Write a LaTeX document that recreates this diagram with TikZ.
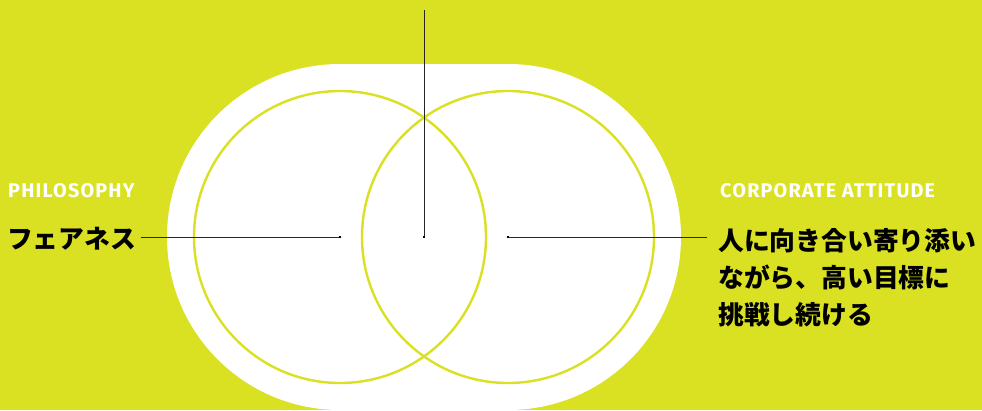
\documentclass[tikz,border=0pt]{standalone}
\usepackage{fontspec}
\usepackage{tikz}
\usetikzlibrary{positioning}
\newfontfamily\cjk{Noto Sans CJK JP}
\newfontfamily\headfont{Fira Sans}[LetterSpace=6]
\definecolor{lime}{RGB}{218,225,34}

\begin{document}
\begin{tikzpicture}[x=1pt,y=-1pt,
  ring/.style={draw=lime,line width=2.4pt},
  leader/.style={draw=black!85,line width=0.9pt},
  tip/.style={fill=black,inner sep=0pt,minimum size=2.4pt},
  caption/.style={font=\headfont\bfseries\fontsize{19.8}{22}\selectfont,text=white,inner sep=0pt,anchor=base west},
  phrase/.style={font=\cjk\bfseries\fontsize{25.8}{37}\selectfont,text=black,inner sep=0pt,anchor=base west,align=left}]
\useasboundingbox (0,0) rectangle (982,410);
\fill[lime] (0,0) rectangle (982,410);
% white stadium behind the two rings
\fill[white,rounded corners=173pt] (167,64) rectangle (681,410);
\coordinate (lc) at (340,237);
\coordinate (rc) at (508,237);
\coordinate (mid) at (424,237);
\coordinate (top) at (424,10);
\draw[ring] (lc) circle (146);
\draw[ring] (rc) circle (146);
% labels
\node[caption] (philcap) at (8,197) {PHILOSOPHY};
\node[caption] (attcap) at (720,197) {CORPORATE ATTITUDE};
\node[phrase] (phil) at (7,248) {フェアネス};
\node[phrase] (att) at (718,324) {人に向き合い寄り添い\\ながら、高い目標に\\挑戦し続ける};
\coordinate (pend) at (141,237);
\coordinate (aend) at (707,237);
% leaders
\draw[leader] (top) -- (mid);
\draw[leader] (pend) -- (lc);
\draw[leader] (rc) -- (aend);
\node[tip] at (mid) {};
\node[tip] at (lc) {};
\node[tip] at (rc) {};
\end{tikzpicture}
\end{document}
